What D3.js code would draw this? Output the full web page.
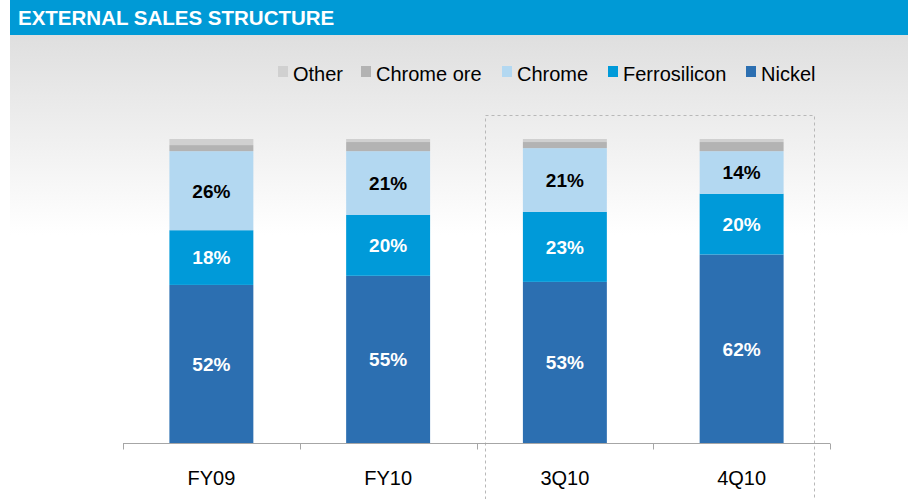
<!DOCTYPE html>
<html lang="en">
<head>
    <meta charset="UTF-8">
    <title>External Sales Structure</title>
    <script src="https://d3js.org/d3.v7.min.js"></script>
    <style>
        body { margin: 0; background: #fff; }
        svg { display: block; font-family: "Liberation Sans", Arial, sans-serif; }
    </style>
</head>
<body>
    <div id="chart"></div>
    <script>
        const width = 908;
        const height = 499;

        // data (percent of external sales)
        const periods = ["FY09", "FY10", "3Q10", "4Q10"];
        const series = ["Nickel", "Ferrosilicon", "Chrome", "Chrome ore", "Other"];
        const nickel = [52, 55, 53, 62];
        const ferrosilicon = [18, 20, 23, 20];
        const chrome = [26, 21, 21, 14];
        const chromeOre = [2, 3, 2, 3];
        const other = [2, 1, 1, 1];
        const legendOrder = ["Other", "Chrome ore", "Chrome", "Ferrosilicon", "Nickel"];

        const colors = {
            "Nickel": "#2c6fb1",
            "Ferrosilicon": "#009ad9",
            "Chrome": "#b3d8f1",
            "Chrome ore": "#b3b3b3",
            "Other": "#d0d0d0"
        };
        const labelColor = { "Nickel": "#fff", "Ferrosilicon": "#fff", "Chrome": "#000" };

        const rows = periods.map((p, i) => ({
            period: p,
            "Nickel": nickel[i],
            "Ferrosilicon": ferrosilicon[i],
            "Chrome": chrome[i],
            "Chrome ore": chromeOre[i],
            "Other": other[i]
        }));

        const svg = d3.select("#chart").append("svg")
            .attr("width", width)
            .attr("height", height);

        // background gradient under the header
        const defs = svg.append("defs");
        const grad = defs.append("linearGradient")
            .attr("id", "bg").attr("x1", 0).attr("y1", 0).attr("x2", 0).attr("y2", 1);
        grad.append("stop").attr("offset", "0%").attr("stop-color", "#dfdfdf");
        grad.append("stop").attr("offset", "100%").attr("stop-color", "#ffffff");

        svg.append("rect")
            .attr("x", 10).attr("y", 35)
            .attr("width", width - 10).attr("height", 200)
            .attr("fill", "url(#bg)");

        // header band
        svg.append("rect")
            .attr("x", 10).attr("y", 0)
            .attr("width", width - 10).attr("height", 35)
            .attr("fill", "#009ad6");
        svg.append("text")
            .attr("x", 18).attr("y", 24.5)
            .attr("fill", "#fff")
            .attr("font-size", 20.5)
            .attr("font-weight", "bold")
            .text("EXTERNAL SALES STRUCTURE");

        const x = d3.scaleBand()
            .domain(periods)
            .range([123, 830])
            .paddingInner(0.525)
            .paddingOuter(0.2625);

        const y = d3.scaleLinear()
            .domain([0, 100])
            .range([443, 139]);

        // dashed box around the quarters
        svg.append("rect")
            .attr("x", 485.5).attr("y", 115.5)
            .attr("width", 329).attr("height", 400)
            .attr("fill", "none")
            .attr("stroke", "#b8b8b8")
            .attr("stroke-dasharray", "3,3");

        const stacked = d3.stack().keys(series)(rows);

        const layer = svg.append("g")
            .selectAll("g")
            .data(stacked)
            .join("g")
            .attr("fill", d => colors[d.key]);

        layer.selectAll("rect")
            .data(d => d)
            .join("rect")
            .attr("x", d => x(d.data.period))
            .attr("y", d => y(d[1]))
            .attr("width", x.bandwidth())
            .attr("height", d => y(d[0]) - y(d[1]));

        // value labels
        stacked.filter(s => labelColor[s.key]).forEach(s => {
            svg.append("g")
                .selectAll("text")
                .data(s)
                .join("text")
                .attr("x", d => x(d.data.period) + x.bandwidth() / 2)
                .attr("y", d => (y(d[0]) + y(d[1])) / 2)
                .attr("dy", "0.36em")
                .attr("text-anchor", "middle")
                .attr("font-size", 19)
                .attr("font-weight", "bold")
                .attr("fill", labelColor[s.key])
                .text(d => (d[1] - d[0]) + "%");
        });

        // x axis with ticks between categories
        const axis = svg.append("g")
            .attr("transform", "translate(0,443.5)");
        axis.append("line")
            .attr("x1", 123).attr("x2", 830)
            .attr("stroke", "#a6a6a6");
        const edges = [x.range()[0]].concat(periods.map(p => x(p) + x.bandwidth() + (x.step() - x.bandwidth()) / 2));
        axis.selectAll(".tick")
            .data(edges)
            .join("line")
            .attr("x1", d => Math.round(d) + 0.5).attr("x2", d => Math.round(d) + 0.5)
            .attr("y1", 0).attr("y2", 6)
            .attr("stroke", "#a6a6a6");
        axis.selectAll(".lbl")
            .data(periods)
            .join("text")
            .attr("x", d => x(d) + x.bandwidth() / 2)
            .attr("y", 41)
            .attr("text-anchor", "middle")
            .attr("font-size", 20)
            .attr("fill", "#000")
            .text(d => d);

        // legend
        const legendX = [278, 361, 502, 608, 746];
        const legend = svg.append("g")
            .selectAll("g")
            .data(legendOrder)
            .join("g")
            .attr("transform", (d, i) => `translate(${legendX[i]},66)`);
        legend.append("rect")
            .attr("width", 10).attr("height", 11)
            .attr("fill", d => colors[d]);
        legend.append("text")
            .attr("x", 15).attr("y", 15)
            .attr("font-size", 20)
            .attr("fill", "#000")
            .text(d => d);
    </script>
</body>
</html>
